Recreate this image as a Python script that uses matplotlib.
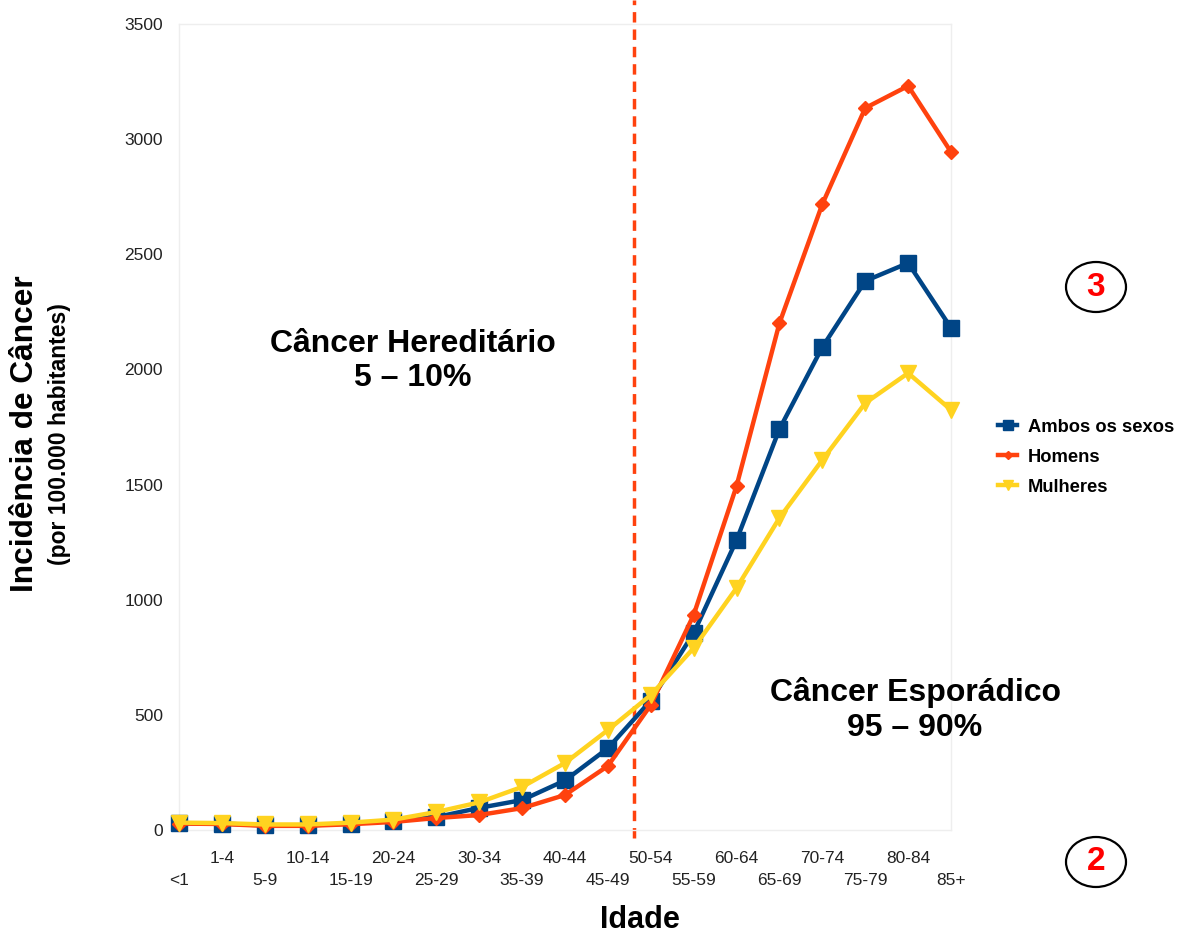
import matplotlib
matplotlib.use("Agg")
import matplotlib.pyplot as plt
from matplotlib.patches import Ellipse

plt.rcParams['font.family'] = ['Liberation Sans', 'DejaVu Sans']

# age groups and incidence per 100.000
idades = ["<1", "1-4", "5-9", "10-14", "15-19", "20-24", "25-29", "30-34", "35-39",
          "40-44", "45-49", "50-54", "55-59", "60-64", "65-69", "70-74", "75-79",
          "80-84", "85+"]
ambos = [30, 28, 20, 20, 28, 40, 56, 96, 130, 215, 355, 562, 855, 1259, 1741,
         2097, 2384, 2462, 2180]
homens = [28, 26, 18, 18, 25, 35, 52, 65, 95, 152, 278, 543, 934, 1494, 2201,
          2718, 3135, 3231, 2944]
mulheres = [32, 30, 24, 24, 32, 45, 78, 120, 187, 291, 434, 586, 790, 1051, 1355,
            1607, 1854, 1984, 1824]

azul = "#004586"
laranja = "#ff420e"
amarelo = "#ffd320"

fig = plt.figure(figsize=(11.82, 9.33), dpi=100)
ax = fig.add_axes([0.1514, 0.1104, 0.6532, 0.8639])

x = list(range(len(idades)))
ax.plot(x, ambos, color=azul, lw=3.2, marker="s", ms=12, clip_on=False,
        label="Ambos os sexos", zorder=3)
ax.plot(x, homens, color=laranja, lw=3.2, marker="D", ms=7.5, clip_on=False,
        label="Homens", zorder=4)
ax.plot(x, mulheres, color=amarelo, lw=3.2, marker="v", ms=12, clip_on=False,
        label="Mulheres", zorder=5)

ax.set_xlim(0, len(idades) - 1)
ax.set_ylim(0, 3500)
ax.set_yticks(range(0, 3501, 500))
ax.set_xticks(x)
# alternate tick labels in two rows
labels = [lab if i % 2 == 1 else "\n" + lab for i, lab in enumerate(idades)]
ax.set_xticklabels(labels, linespacing=1.6)
ax.tick_params(axis="both", length=0, labelsize=12.5, colors="#222222")
ax.tick_params(axis="x", pad=15)
ax.tick_params(axis="y", pad=11.5)
for s in ax.spines.values():
    s.set_color("#eeeeee")
    s.set_linewidth(1)

# boundary between hereditary and sporadic
ax.plot([10.6, 10.6], [-0.01, 1.03], transform=ax.get_xaxis_transform(),
        color=laranja, lw=2.5, ls=(0, (3, 2)), clip_on=False, zorder=2)

ax.text(5.46, 2036, "Câncer Hereditário\n5 – 10%", ha="center", va="center",
        fontsize=23, fontweight="bold", linespacing=1.2)
ax.text(17.16, 521, "Câncer Esporádico\n95 – 90%", ha="center", va="center",
        fontsize=23, fontweight="bold", linespacing=1.2)

fig.text(0.021, 0.535, "Incidência de Câncer", rotation=90, ha="center",
         va="center", fontsize=22.8, fontweight="bold")
fig.text(0.050, 0.535, "(por 100.000 habitantes)", rotation=90, ha="center",
         va="center", fontsize=16.5, fontweight="bold")
fig.text(0.541, 0.005, "Idade", ha="center", va="baseline", fontsize=22,
         fontweight="bold")

leg = ax.legend(loc="center left", bbox_to_anchor=(1.04, 0.4625), frameon=False,
                prop={"weight": "bold", "size": 13.2}, handlelength=1.0,
                handletextpad=0.6, labelspacing=0.7, markerscale=0.6)

# circled markers on the right
for num, yc in [("3", 287), ("2", 862)]:
    yf = 1 - yc / 933
    fig.add_artist(Ellipse((1096 / 1182, yf), 60 / 1182, 50 / 933,
                           transform=fig.transFigure, fill=False, lw=1.6,
                           edgecolor="black"))
    fig.text(1096 / 1182, yf, num, ha="center", va="center", color="#ff0000",
             fontsize=24, fontweight="bold")

fig.savefig("out.png", dpi=100)
